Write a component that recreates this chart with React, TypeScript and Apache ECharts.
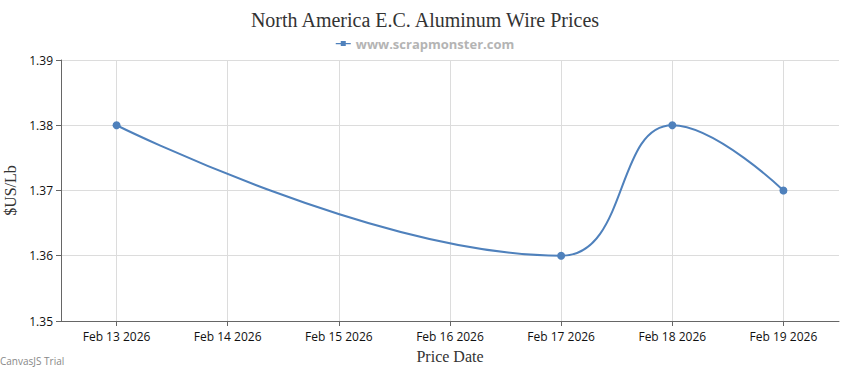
import React, { useEffect, useRef } from "react";
import * as echarts from "echarts";

const DAY = 86400000;
const tickDates = ["2026-02-13", "2026-02-14", "2026-02-15", "2026-02-16", "2026-02-17", "2026-02-18", "2026-02-19"];
const pointDates = ["2026-02-13", "2026-02-17", "2026-02-18", "2026-02-19"];
const prices = [1.38, 1.36, 1.38, 1.37];
const MONTHS = ["Jan", "Feb", "Mar", "Apr", "May", "Jun", "Jul", "Aug", "Sep", "Oct", "Nov", "Dec"];

const ts = (s: string) => {
  const [y, m, d] = s.split("-").map(Number);
  return Date.UTC(y, m - 1, d);
};
const T0 = ts(tickDates[0]);
const dayIndex = (s: string) => Math.round((ts(s) - T0) / DAY);
const fmt = (idx: number) => {
  const d = new Date(T0 + Math.round(idx) * DAY);
  return `${MONTHS[d.getUTCMonth()]} ${d.getUTCDate()} ${d.getUTCFullYear()}`;
};

export default function App() {
  const ref = useRef<HTMLDivElement>(null);
  useEffect(() => {
    const chart = echarts.init(ref.current!, null, { renderer: "svg" });
    const ticks = tickDates.map(dayIndex);
    const minX = ticks[0] - 0.5;
    const maxX = ticks[ticks.length - 1] + 0.5;
    chart.setOption({
      animation: false,
      title: {
        text: "North America E.C. Aluminum Wire Prices",
        left: "center",
        top: 5,
        textStyle: { fontFamily: "Liberation Serif, serif", fontSize: 20, fontWeight: "normal", color: "#333" },
      },
      legend: {
        top: 32,
        left: "center",
        icon: "path://M0,5h24v2H0z M8,2h8v8H8z",
        itemWidth: 15,
        itemHeight: 7,
        itemGap: 6,
        textStyle: { fontFamily: "Open Sans, sans-serif", fontSize: 13, fontWeight: "bold", color: "#b4b4b4" },
        data: ["www.scrapmonster.com"],
      },
      grid: { left: 61, right: 11, top: 60, bottom: 49, containLabel: false, outerBoundsMode: "none" },
      xAxis: {
        type: "value",
        min: minX,
        max: maxX,
        name: "Price Date",
        nameLocation: "middle",
        nameGap: 27,
        nameTextStyle: { fontFamily: "Liberation Serif, serif", fontSize: 16, color: "#333" },
        axisLine: { show: true, onZero: false, lineStyle: { color: "#666", width: 1 } },
        axisTick: { show: true, length: 5, lineStyle: { color: "#666" }, customValues: ticks },
        axisLabel: {
          customValues: ticks,
          formatter: (v: number) => fmt(v),
          fontFamily: "Open Sans, sans-serif",
          fontSize: 12,
          color: "#111",
          margin: 9,
        },
        splitLine: { show: true, lineStyle: { color: "#dcdcdc", width: 1 } },
      },
      yAxis: {
        type: "value",
        min: 1.35,
        max: 1.39,
        interval: 0.01,
        name: "$US/Lb",
        nameLocation: "middle",
        nameGap: 42,
        nameTextStyle: { fontFamily: "Liberation Serif, serif", fontSize: 16, color: "#333" },
        axisLine: { show: true, onZero: false, lineStyle: { color: "#666", width: 1 } },
        axisTick: { show: true, length: 5, lineStyle: { color: "#666" } },
        axisLabel: {
          formatter: (v: number) => v.toFixed(2),
          fontFamily: "Open Sans, sans-serif",
          fontSize: 12,
          color: "#111",
          margin: 8,
        },
        splitLine: { show: true, lineStyle: { color: "#dcdcdc", width: 1 } },
      },
      series: [
        {
          name: "www.scrapmonster.com",
          type: "line",
          smooth: 0.45,
          data: pointDates.map((d, i) => [dayIndex(d), prices[i]]),
          symbol: "circle",
          symbolSize: 8,
          lineStyle: { color: "#4F81BC", width: 2 },
          itemStyle: { color: "#4F81BC" },
        },
      ],
      graphic: [
        {
          type: "text",
          left: 0,
          top: 356,
          style: { text: "CanvasJS Trial", fontFamily: "Open Sans, sans-serif", fontSize: 10, fill: "#888" },
        },
      ],
    });
    return () => chart.dispose();
  }, []);
  return <div ref={ref} style={{ width: 850, height: 370, position: "absolute", left: 0, top: 0 }} />;
}
